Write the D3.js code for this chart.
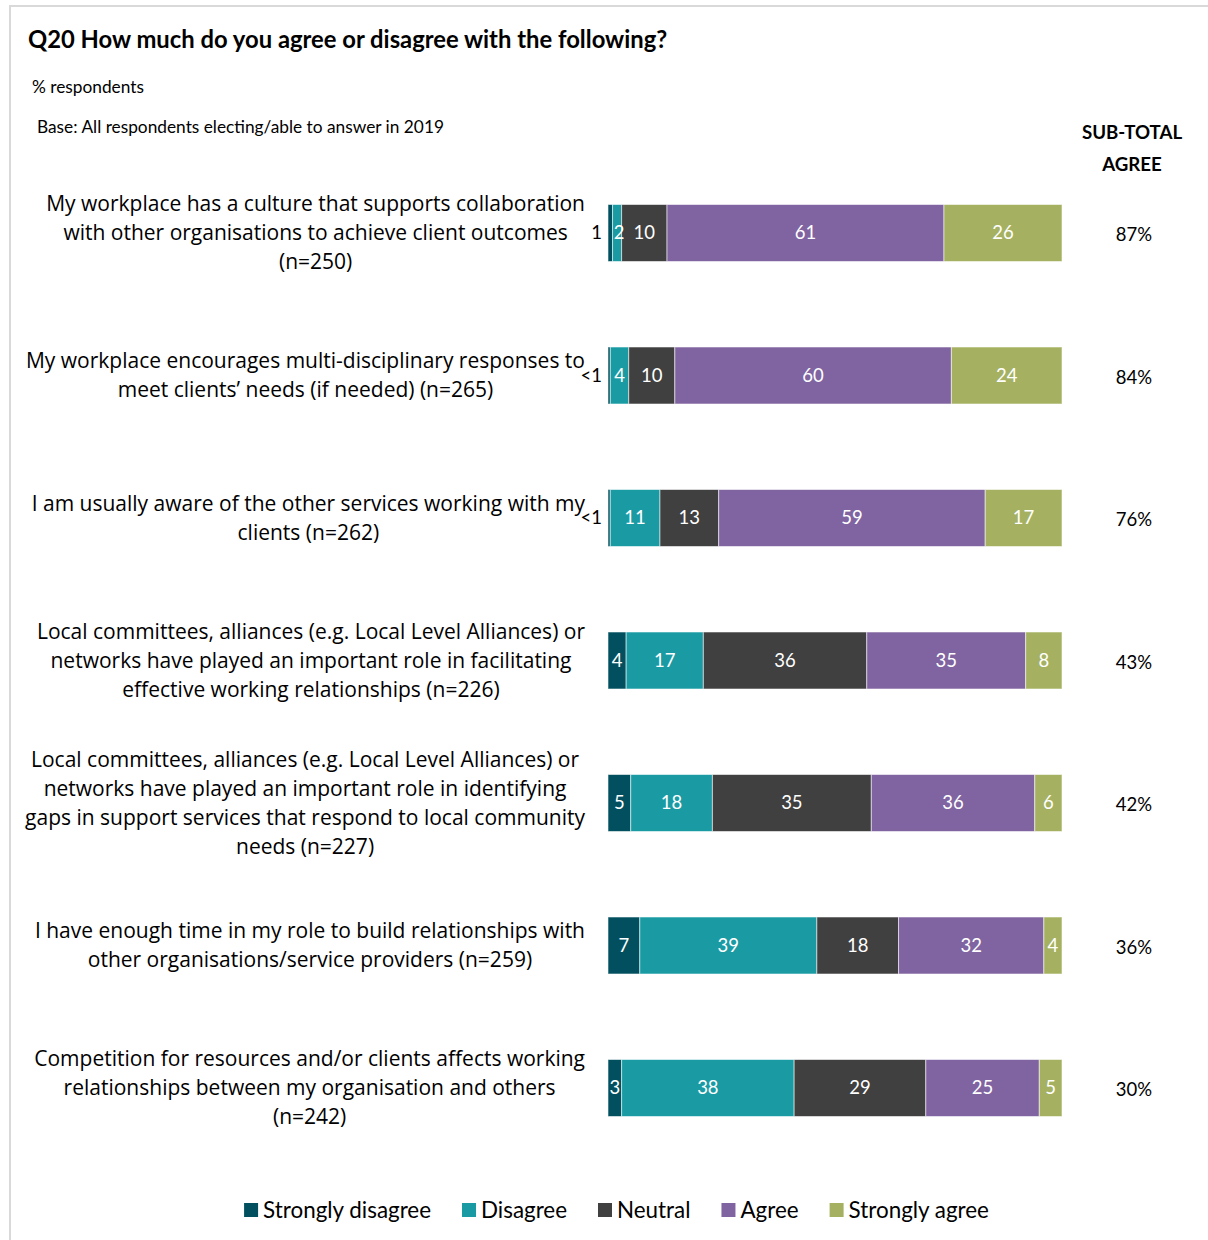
<!DOCTYPE html>
<html>
<head>
<meta charset="utf-8">
<script src="https://cdn.jsdelivr.net/npm/d3@7"></script>
<style>
  html, body { margin: 0; padding: 0; background: #fff; }
  svg { display: block; }
</style>
</head>
<body>
<svg id="chart" width="1208" height="1240"></svg>
<script>
// Statements, each split into its wrapped lines
const categories = [
  ["My workplace has a culture that supports collaboration", "with other organisations to achieve client outcomes", "(n=250)"],
  ["My workplace encourages multi-disciplinary responses to", "meet clients\u2019 needs (if needed) (n=265)"],
  ["I am usually aware of the other services working with my", "clients (n=262)"],
  ["Local committees, alliances (e.g. Local Level Alliances) or", "networks have played an important role in facilitating", "effective working relationships (n=226)"],
  ["Local committees, alliances (e.g. Local Level Alliances) or", "networks have played an important role in identifying", "gaps in support services that respond to local community", "needs (n=227)"],
  ["I have enough time in my role to build relationships with", "other organisations/service providers (n=259)"],
  ["Competition for resources and/or clients affects working", "relationships between my organisation and others", "(n=242)"]
];

const seriesNames = ["Strongly disagree", "Disagree", "Neutral", "Agree", "Strongly agree"];

// % respondents per statement ("<1" is taken as 0.5)
const stronglyDisagree = [1, 0.5, 0.5, 4, 5, 7, 3];
const disagree         = [2, 4, 11, 17, 18, 39, 38];
const neutral          = [10, 10, 13, 36, 35, 18, 29];
const agree            = [61, 60, 59, 35, 36, 32, 25];
const stronglyAgree    = [26, 24, 17, 8, 6, 4, 5];

// Printed labels for the strongly-disagree segment
const stronglyDisagreeLabels = ["1", "<1", "<1", "4", "5", "7", "3"];

// Agree + strongly agree, as reported
const subTotalAgree = [87, 84, 76, 43, 42, 36, 30];

const colors = ["#02505f", "#1a9ba4", "#404040", "#8064a1", "#a5b160"];

const svg = d3.select("#chart");
const labelFont = "'Open Sans', 'Noto Sans', sans-serif";
const mainFont = "Lato, 'Liberation Sans', sans-serif";

// Frame
svg.append("path")
  .attr("d", "M10,1240 V6 H1208")
  .attr("fill", "none")
  .attr("stroke", "#d9d9d9")
  .attr("stroke-width", 2);

// Headings
svg.append("text").attr("x", 28).attr("y", 48)
  .attr("font-family", mainFont).attr("font-weight", 700).attr("font-size", 23.8)
  .attr("fill", "#000")
  .text("Q20 How much do you agree or disagree with the following?");
svg.append("text").attr("x", 32).attr("y", 93)
  .attr("font-family", mainFont).attr("font-size", 17.3).attr("fill", "#000")
  .text("% respondents");
svg.append("text").attr("x", 37).attr("y", 133)
  .attr("font-family", mainFont).attr("font-size", 17.3).attr("fill", "#000")
  .text("Base: All respondents electing/able to answer in 2019");

const subHead = svg.append("text")
  .attr("font-family", mainFont).attr("font-weight", 700).attr("font-size", 18.7)
  .attr("text-anchor", "middle").attr("fill", "#000");
subHead.append("tspan").attr("x", 1132).attr("y", 139).text("SUB-TOTAL");
subHead.append("tspan").attr("x", 1132).attr("y", 171).text("AGREE");

// Stacked data
const rows = categories.map((c, i) => ({
  idx: i,
  "Strongly disagree": stronglyDisagree[i],
  "Disagree": disagree[i],
  "Neutral": neutral[i],
  "Agree": agree[i],
  "Strongly agree": stronglyAgree[i]
}));
const labelsFor = {
  "Strongly disagree": stronglyDisagreeLabels,
  "Disagree": disagree.map(String),
  "Neutral": neutral.map(String),
  "Agree": agree.map(String),
  "Strongly agree": stronglyAgree.map(String)
};

const stacked = d3.stack().keys(seriesNames).offset(d3.stackOffsetExpand)(rows);

const x = d3.scaleLinear().domain([0, 1]).range([608, 1062]);
const y = d3.scaleBand().domain(d3.range(categories.length))
  .range([204.5, 1116.5]).paddingInner(0.6).paddingOuter(0);

const layers = svg.append("g").selectAll("g")
  .data(stacked).join("g")
  .attr("fill", (d, i) => colors[i]);

layers.selectAll("rect")
  .data(d => d.map(p => ({ p, key: d.key })))
  .join("rect")
  .attr("x", d => x(d.p[0]))
  .attr("y", d => y(d.p.data.idx))
  .attr("width", d => x(d.p[1]) - x(d.p[0]))
  .attr("height", y.bandwidth())
  .attr("stroke", "#ffffff")
  .attr("stroke-opacity", 0.55)
  .attr("stroke-width", 1);

// Segment value labels
const valueLabels = svg.append("g")
  .attr("font-family", mainFont).attr("font-size", 18.5);
stacked.forEach(layer => {
  layer.forEach(p => {
    const i = p.data.idx;
    const raw = p.data[layer.key];
    const outside = raw < 1.5;
    valueLabels.append("text")
      .attr("x", outside ? x(0) - 6 : (x(p[0]) + x(p[1])) / 2 + (raw < 3 ? 2 : 0))
      .attr("y", y(i) + y.bandwidth() / 2)
      .attr("dy", "0.35em")
      .attr("text-anchor", outside ? "end" : "middle")
      .attr("fill", outside ? "#000" : "#fff")
      .text(labelsFor[layer.key][i]);
  });
});

// Statement labels: lines centred within a block that is right-aligned to the bars
const lineH = 29;
const cat = svg.append("g")
  .attr("font-family", labelFont).attr("font-size", 21).attr("fill", "#000");
categories.forEach((lines, i) => {
  const cy = y(i) + y.bandwidth() / 2;
  const t = cat.append("text").attr("text-anchor", "middle");
  const spans = lines.map((ln, k) => t.append("tspan")
    .attr("y", cy + (k - (lines.length - 1) / 2) * lineH)
    .attr("dy", "0.35em")
    .text(ln));
  const maxW = d3.max(spans, s => s.node().getComputedTextLength());
  spans.forEach(s => s.attr("x", 585 - maxW / 2));
});

// Sub-total column
svg.append("g")
  .attr("font-family", mainFont).attr("font-size", 18.5).attr("fill", "#000")
  .selectAll("text").data(subTotalAgree).join("text")
  .attr("x", 1134)
  .attr("y", (d, i) => y(i) + y.bandwidth() / 2 + 2)
  .attr("dy", "0.35em")
  .attr("text-anchor", "middle")
  .text(d => d + "%");

// Legend
const legend = svg.append("g")
  .attr("font-family", mainFont).attr("font-size", 22.4);
let lx = 0;
seriesNames.forEach((name, i) => {
  const g = legend.append("g");
  g.append("rect").attr("x", 0).attr("y", -7).attr("width", 14).attr("height", 14)
    .attr("fill", colors[i]);
  const tx = g.append("text").attr("x", 19).attr("dy", "0.35em").attr("fill", "#000").text(name);
  const w = 19 + tx.node().getComputedTextLength();
  g.attr("transform", `translate(${lx},0)`);
  lx += w + 31;
});
const legendW = lx - 31;
legend.attr("transform", `translate(${616.5 - legendW / 2},1210)`);
</script>
</body>
</html>
